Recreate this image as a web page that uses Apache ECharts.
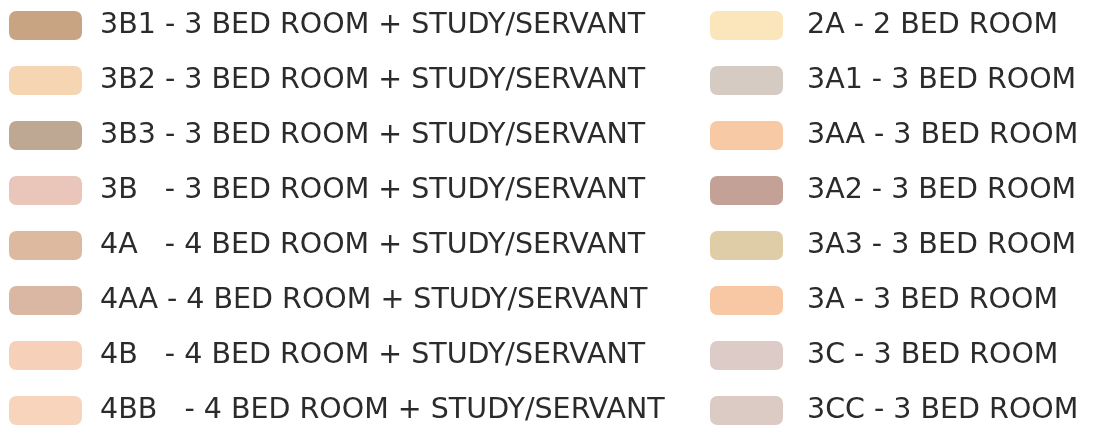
<!DOCTYPE html>
<html>
<head>
<meta charset="utf-8">
<script src="https://cdn.jsdelivr.net/npm/echarts@6/dist/echarts.min.js"></script>
<style>
  html, body { margin: 0; padding: 0; background: #fff; }
  #chart { width: 1097px; height: 428px; }
</style>
</head>
<body>
<div id="chart"></div>
<script>
// unit types, left column then right column
var leftNames = [
    '3B1 - 3 BED ROOM + STUDY/SERVANT',
    '3B2 - 3 BED ROOM + STUDY/SERVANT',
    '3B3 - 3 BED ROOM + STUDY/SERVANT',
    '3B   - 3 BED ROOM + STUDY/SERVANT',
    '4A   - 4 BED ROOM + STUDY/SERVANT',
    '4AA - 4 BED ROOM + STUDY/SERVANT',
    '4B   - 4 BED ROOM + STUDY/SERVANT',
    '4BB   - 4 BED ROOM + STUDY/SERVANT'
];
var leftColors = ['#C8A482', '#F6D5B3', '#BFA893', '#E9C5BA', '#DDB9A0', '#D9B7A3', '#F6D0B9', '#F8D4BD'];

var rightNames = [
    '2A - 2 BED ROOM',
    '3A1 - 3 BED ROOM',
    '3AA - 3 BED ROOM',
    '3A2 - 3 BED ROOM',
    '3A3 - 3 BED ROOM',
    '3A - 3 BED ROOM',
    '3C - 3 BED ROOM',
    '3CC - 3 BED ROOM'
];
var rightColors = ['#FBE5BA', '#D6CBC3', '#F8C9A5', '#C4A196', '#DFCDA8', '#F8C7A4', '#DCCBC6', '#DCCBC4'];

var chart = echarts.init(document.getElementById('chart'));

var series = [];
function addSeries(names, colors) {
    for (var i = 0; i < names.length; i++) {
        series.push({
            type: 'bar',
            name: names[i],
            data: [],
            itemStyle: { color: colors[i] }
        });
    }
}
addSeries(leftNames, leftColors);
addSeries(rightNames, rightColors);

function makeLegend(left, textGap, names) {
    return {
        orient: 'vertical',
        left: left,
        top: 11,
        height: 428,
        padding: 0,
        icon: 'roundRect',
        itemWidth: 73,
        itemHeight: 29,
        itemGap: 26,
        selectedMode: false,
        data: names,
        textStyle: {
            fontFamily: 'DejaVu Sans',
            fontSize: 28.5,
            lineHeight: 29,
            color: '#2b2b2b',
            padding: [0, 0, 0, textGap]
        }
    };
}

chart.setOption({
    animation: false,
    grid: { show: false },
    xAxis: { show: false, type: 'category', data: [] },
    yAxis: { show: false, type: 'value' },
    legend: [
        makeLegend(9, 13, leftNames),
        makeLegend(710, 19, rightNames)
    ],
    series: series
});
</script>
</body>
</html>
